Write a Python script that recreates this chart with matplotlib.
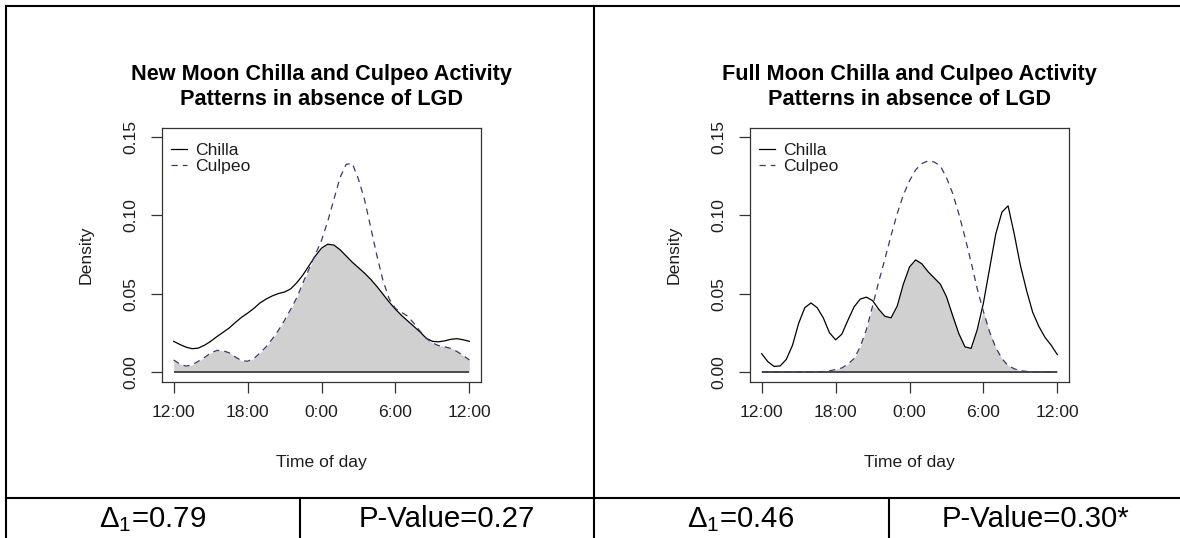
import numpy as np
import matplotlib
matplotlib.use("Agg")
import matplotlib.pyplot as plt
from matplotlib.lines import Line2D

plt.rcParams["font.family"] = ["Liberation Sans", "DejaVu Sans"]
plt.rcParams["mathtext.fontset"] = "custom"
plt.rcParams["mathtext.rm"] = "Liberation Sans"

# hours after noon (0 = 12:00, 24 = next 12:00), half-hour steps
hours = np.arange(0, 24.5, 0.5)

new_chilla = [0.0195, 0.0175, 0.0158, 0.0148, 0.0152, 0.0170, 0.0195, 0.0225, 0.0252, 0.0280,
              0.0315, 0.0348, 0.0375, 0.0405, 0.0440, 0.0465, 0.0485, 0.0500, 0.0510, 0.0530,
              0.0570, 0.0620, 0.0680, 0.0740, 0.0790, 0.0815, 0.0810, 0.0780, 0.0740, 0.0700,
              0.0665, 0.0630, 0.0590, 0.0545, 0.0495, 0.0445, 0.0400, 0.0360, 0.0325, 0.0290,
              0.0255, 0.0215, 0.0195, 0.0192, 0.0198, 0.0208, 0.0212, 0.0205, 0.0195]
new_culpeo = [0.0076, 0.0050, 0.0037, 0.0045, 0.0068, 0.0092, 0.0120, 0.0137, 0.0135, 0.0122,
              0.0095, 0.0072, 0.0068, 0.0085, 0.0120, 0.0160, 0.0210, 0.0265, 0.0330, 0.0400,
              0.0475, 0.0570, 0.0660, 0.0750, 0.0840, 0.0960, 0.1100, 0.1240, 0.1325, 0.1330,
              0.1230, 0.1097, 0.0920, 0.0740, 0.0580, 0.0465, 0.0405, 0.0380, 0.0355, 0.0310,
              0.0260, 0.0215, 0.0185, 0.0168, 0.0160, 0.0150, 0.0130, 0.0105, 0.0076]
full_chilla = [0.0116, 0.0065, 0.0035, 0.0038, 0.0080, 0.0170, 0.0310, 0.0410, 0.0440, 0.0410,
               0.0345, 0.0250, 0.0205, 0.0240, 0.0330, 0.0415, 0.0465, 0.0477, 0.0455, 0.0400,
               0.0355, 0.0345, 0.0420, 0.0560, 0.0670, 0.0715, 0.0690, 0.0640, 0.0600, 0.0560,
               0.0480, 0.0360, 0.0245, 0.0160, 0.0150, 0.0270, 0.0440, 0.0660, 0.0880, 0.1020,
               0.1060, 0.0880, 0.0680, 0.0520, 0.0380, 0.0290, 0.0220, 0.0170, 0.0110]
full_culpeo = [0.0, 0.0, 0.0, 0.0, 0.0, 0.0, 0.0, 0.0, 0.0, 0.0,
               0.0002, 0.0007, 0.0015, 0.0025, 0.0050, 0.0085, 0.0160, 0.0270, 0.0420, 0.0576,
               0.0720, 0.0870, 0.1010, 0.1130, 0.1220, 0.1290, 0.1330, 0.1347, 0.1340, 0.1315,
               0.1240, 0.1140, 0.1010, 0.0860, 0.0700, 0.0530, 0.0385, 0.0255, 0.0155, 0.0085,
               0.0040, 0.0020, 0.0008, 0.0003, 0.0, 0.0, 0.0, 0.0, 0.0]

titles = [["New Moon Chilla and Culpeo Activity", "Patterns in absence of LGD"],
          ["Full Moon Chilla and Culpeo Activity", "Patterns in absence of LGD"]]
chilla_series = [new_chilla, full_chilla]
culpeo_series = [new_culpeo, full_culpeo]
delta_text = ["0.79", "0.46"]
pvalue_text = ["0.27", "0.30*"]

xtick_pos = [0, 6, 12, 18, 24]
xtick_lab = ["12:00", "18:00", "0:00", "6:00", "12:00"]
ytick_pos = [0.0, 0.05, 0.10, 0.15]
ytick_lab = ["0.00", "0.05", "0.10", "0.15"]

W, H = 1180, 538
fig = plt.figure(figsize=(W / 100, H / 100), dpi=100)


def fx(px):
    return px / W


def fy(py):
    return 1 - py / H


def hline(x0, x1, y):
    fig.add_artist(Line2D([fx(x0), fx(x1)], [fy(y), fy(y)], color="black", lw=1.5,
                          transform=fig.transFigure, solid_capstyle="projecting"))


def vline(x, y0, y1):
    fig.add_artist(Line2D([fx(x), fx(x)], [fy(y0), fy(y1)], color="black", lw=1.5,
                          transform=fig.transFigure, solid_capstyle="projecting"))


# table grid
hline(6, 1180, 6)
hline(6, 1180, 498)
vline(6, 6, 538)
vline(594, 6, 538)
vline(300, 498, 538)
vline(889, 498, 538)

culpeo_col = "#383870"
txt_col = "#1e1e1e"

for i in range(2):
    dx = 588 * i
    ax = fig.add_axes([fx(161.8 + dx), fy(381.6), (481.3 - 161.8) / W, (381.6 - 128) / H])
    chilla = np.array(chilla_series[i])
    culpeo = np.array(culpeo_series[i])
    ax.fill_between(hours, 0, np.minimum(chilla, culpeo), color="#d0d0d0", lw=0)
    ax.hlines(0, hours[0], hours[-1], color="#4a4a4a", lw=1.4)
    ax.plot(hours, chilla, color="black", lw=0.9, label="Chilla")
    ax.plot(hours, culpeo, color=culpeo_col, lw=0.9, ls=(0, (5, 4)), label="Culpeo")
    ax.set_xlim(-0.966, 24.97)
    ax.set_ylim(-0.0062, 0.1557)
    ax.set_xticks(xtick_pos)
    ax.set_xticklabels(xtick_lab)
    ax.set_yticks(ytick_pos)
    ax.set_yticklabels(ytick_lab, rotation=90, va="center")
    ax.tick_params(axis="both", length=7.6, width=0.9, color="#333333",
                   labelsize=12.6, labelcolor=txt_col)
    ax.tick_params(axis="x", pad=9.2)
    ax.tick_params(axis="y", pad=9.0)
    for s in ax.spines.values():
        s.set_color("#333333")
        s.set_linewidth(0.9)

    leg = ax.legend(loc="upper left", frameon=False, fontsize=12.6,
                    bbox_to_anchor=(fx(170.5 + dx), fy(143)), bbox_transform=fig.transFigure,
                    borderpad=0, borderaxespad=0, handlelength=0.95, handletextpad=0.45,
                    labelspacing=0.05)
    for t in leg.get_texts():
        t.set_color(txt_col)

    cx = 321.4 + dx
    fig.text(fx(cx), fy(80), titles[i][0], ha="center", va="baseline",
             fontsize=15.6, fontweight="bold", color="black")
    fig.text(fx(cx), fy(104.7), titles[i][1], ha="center", va="baseline",
             fontsize=15.6, fontweight="bold", color="black")
    fig.text(fx(85.8 + dx), fy(254.8), "Density", rotation=90, ha="center", va="center",
             fontsize=12.6, color=txt_col)
    fig.text(fx(cx), fy(466.7), "Time of day", ha="center", va="baseline",
             fontsize=12.6, color=txt_col)

    # bottom row statistics
    fig.text(fx(153 + dx), fy(527), "Δ$_{1}$=" + delta_text[i], ha="center", va="baseline",
             fontsize=21.2, color="black")
    fig.text(fx(447 + dx), fy(527), "P-Value=" + pvalue_text[i], ha="center", va="baseline",
             fontsize=21.2, color="black")

fig.savefig("out.png", dpi=100)
